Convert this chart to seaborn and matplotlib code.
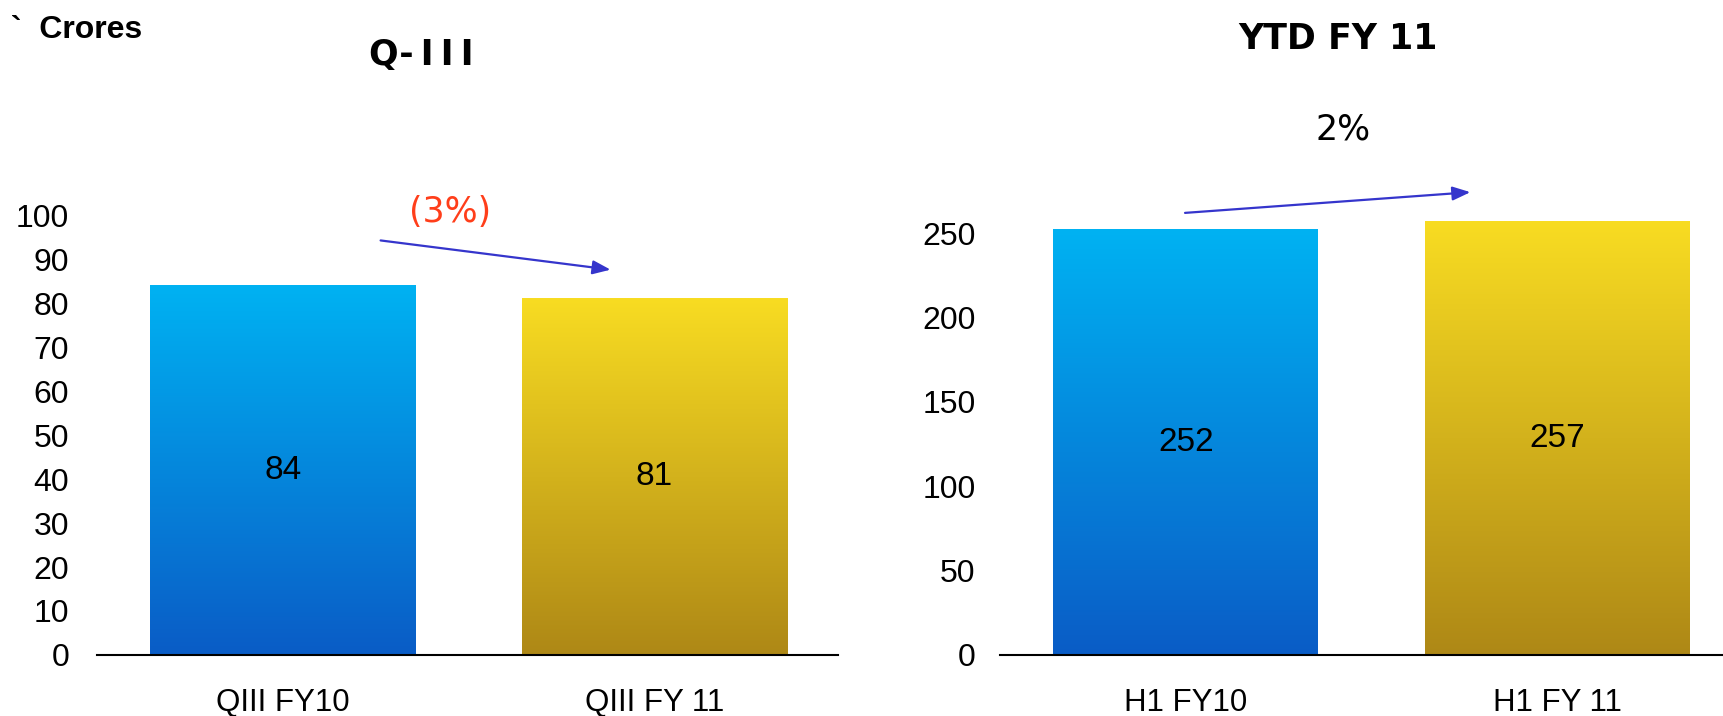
import numpy as np
import pandas as pd
import matplotlib
matplotlib.use("Agg")
import matplotlib.pyplot as plt
from matplotlib.colors import LinearSegmentedColormap
import seaborn as sns

# ---- data ----
q_categories = ["QIII FY10", "QIII FY 11"]
q_values = [84, 81]
ytd_categories = ["H1 FY10", "H1 FY 11"]
ytd_values = [252, 257]
q_ticks = [0, 10, 20, 30, 40, 50, 60, 70, 80, 90, 100]
ytd_ticks = [0, 50, 100, 150, 200, 250]
q_change = "(3%)"
ytd_change = "2%"

sns.set_theme(style="white")
plt.rcParams['font.family'] = ['Liberation Sans', 'DejaVu Sans']
plt.rcParams['text.color'] = 'black'

fig = plt.figure(figsize=(17.24, 7.16), dpi=100)
ax1 = fig.add_axes([0.0563, 0.0852, 0.4298, 0.6145])
ax2 = fig.add_axes([0.5803, 0.0852, 0.4197, 0.6601])

blue_top, blue_bot = "#00B2F2", "#0A5CC6"
gold_top, gold_bot = "#F8DC22", "#AE8816"
grads = [LinearSegmentedColormap.from_list("b", [blue_bot, blue_top]),
         LinearSegmentedColormap.from_list("g", [gold_bot, gold_top])]

def draw(ax, cats, vals, ticks, ylim, xlim, pad):
    df = pd.DataFrame({"cat": cats, "val": vals})
    sns.barplot(data=df, x="cat", y="val", hue="cat",
                palette=[blue_top, gold_top], width=0.714, legend=False, ax=ax)
    grad = np.linspace(0, 1, 256).reshape(-1, 1)
    for p, cm in zip(ax.patches, grads):
        x0, w, h = p.get_x(), p.get_width(), p.get_height()
        ax.imshow(grad, cmap=cm, origin="lower", aspect="auto",
                  extent=[x0, x0 + w, 0, h], zorder=2)
        p.set_visible(False)
    for i, v in enumerate(vals):
        ax.text(i, v / 2, str(v), ha="center", va="center", fontsize=24, color="black", zorder=3)
    ax.set_xlim(*xlim)
    ax.set_ylim(*ylim)
    ax.set_yticks(ticks)
    ax.set_yticklabels([str(t) for t in ticks])
    ax.set_xlabel("")
    ax.set_ylabel("")
    for s in ["top", "right", "left"]:
        ax.spines[s].set_visible(False)
    ax.spines["bottom"].set_color("black")
    ax.spines["bottom"].set_linewidth(1.5)
    ax.tick_params(axis="y", length=0, pad=pad, labelsize=23, colors="black")
    ax.tick_params(axis="x", length=0, pad=24, labelsize=22.5, colors="black")
    ax.grid(False)

draw(ax1, q_categories, q_values, q_ticks, (0, 100), (-0.5, 1.495), 20)
draw(ax2, ytd_categories, ytd_values, ytd_ticks, (0, 280), (-0.5, 1.45), 18)

arrow_kw = dict(arrowstyle="-|>,head_length=0.9,head_width=0.35", color="#3535CC", lw=1.6)
ax1.annotate("", xy=(0.89, 87.5), xytext=(0.256, 94.3), arrowprops=arrow_kw, annotation_clip=False)
ax1.text(0.45, 100.7, q_change, ha="center", va="center", fontsize=25, color="#FF3E1A",
         family="DejaVu Sans", clip_on=False)
ax2.annotate("", xy=(0.774, 274.3), xytext=(-0.01, 261.8), arrowprops=arrow_kw, annotation_clip=False)
ax2.text(0.423, 311.6, ytd_change, ha="center", va="center", fontsize=25, color="black",
         family="DejaVu Sans", clip_on=False)

fig.text(421 / 1724, 1 - 55 / 716, "Q-\u2009I\u2009I\u2009I", ha="center", va="center", fontsize=25,
         fontweight="bold", family="DejaVu Sans", color="black")
fig.text(1338 / 1724, 1 - 39 / 716, "YTD FY 11", ha="center", va="center", fontsize=25,
         fontweight="bold", family="DejaVu Sans", color="black")
fig.text(11 / 1724, 1 - 30 / 716, "`  Crores", ha="left", va="center", fontsize=23,
         fontweight="bold", color="black")

fig.savefig("out.png", dpi=100)
